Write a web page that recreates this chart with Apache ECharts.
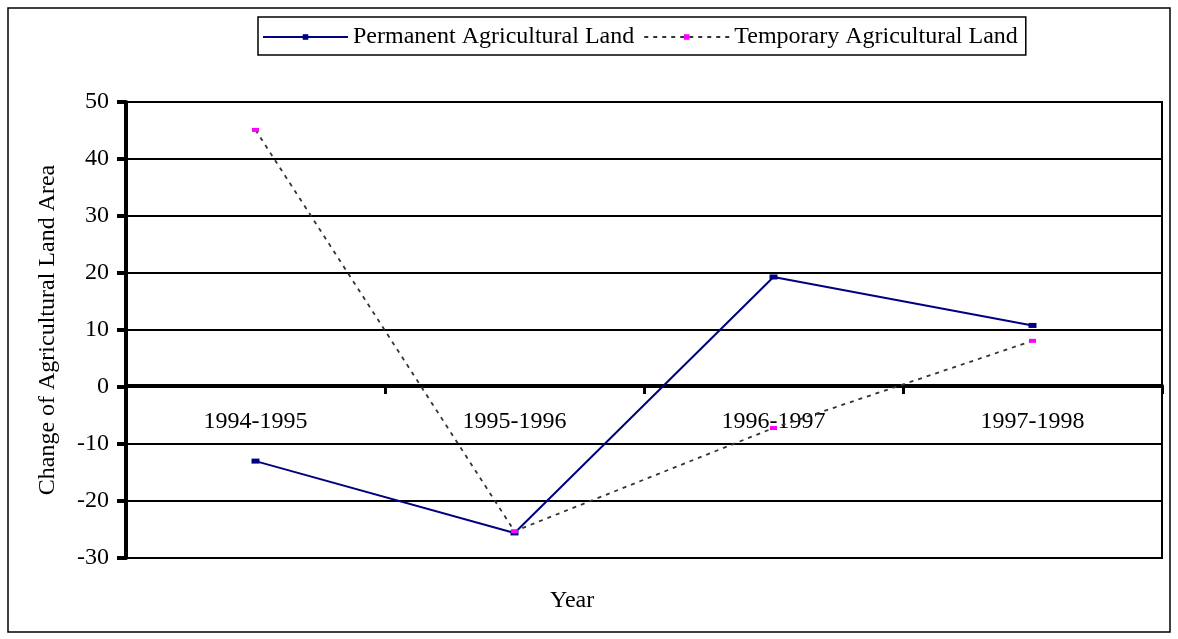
<!DOCTYPE html>
<html>
<head>
<meta charset="utf-8">
<script src="https://cdn.jsdelivr.net/npm/echarts@6/dist/echarts.min.js"></script>
<style>
  html, body { margin: 0; padding: 0; background: #fff; }
  #chart { width: 1178px; height: 639px; }
</style>
</head>
<body>
<div id="chart"></div>
<script>
// values
const years = ['1994-1995', '1995-1996', '1996-1997', '1997-1998'];
const permanentLand = [-13, -25.6, 19.3, 10.8];
const temporaryLand = [45.1, -25.3, -7.2, 8.1];
const yTicks = { min: -30, max: 50, interval: 10 };

const serif = '"Liberation Serif", "Times New Roman", serif';
const fs = 24;

const chart = echarts.init(document.getElementById('chart'));

chart.setOption({
  backgroundColor: '#fff',
  animation: false,
  textStyle: { fontFamily: serif, color: '#000' },
  graphic: [
    {
      type: 'rect',
      shape: { x: 8, y: 8, width: 1162, height: 624 },
      style: { fill: 'none', stroke: '#000', lineWidth: 1.5 }
    },
    {
      type: 'text',
      left: 550,
      top: 589,
      style: { text: 'Year', font: fs + 'px ' + serif, fill: '#000' }
    }
  ],
  legend: {
    left: 258,
    top: 17,
    padding: [8, 8, 6, 4],
    borderColor: '#000',
    borderWidth: 1.5,
    itemWidth: 85,
    itemHeight: 7,
    itemGap: 9,
    textStyle: { fontFamily: serif, fontSize: fs, color: '#000' },
    data: ['Permanent Agricultural Land', 'Temporary Agricultural Land']
  },
  grid: {
    left: 126,
    right: 16,
    top: 102,
    bottom: 81,
    show: true,
    borderColor: '#000',
    borderWidth: 2
  },
  xAxis: {
    type: 'category',
    data: years,
    offset: -172, // axis drawn at the zero line
    axisLine: { onZero: false, lineStyle: { color: '#000', width: 4 } },
    axisTick: { show: true, length: 8, lineStyle: { color: '#000', width: 3 } },
    axisLabel: { fontFamily: serif, fontSize: fs, color: '#000', margin: 24 }
  },
  yAxis: {
    type: 'value',
    min: yTicks.min,
    max: yTicks.max,
    interval: yTicks.interval,
    name: 'Change of Agricultural Land Area',
    nameLocation: 'middle',
    nameGap: 66,
    nameTextStyle: { fontFamily: serif, fontSize: fs, color: '#000' },
    axisLine: { show: true, lineStyle: { color: '#000', width: 4 } },
    axisTick: { show: true, length: 9, lineStyle: { color: '#000', width: 4 } },
    axisLabel: { fontFamily: serif, fontSize: fs, color: '#000', margin: 17 },
    splitLine: { show: true, lineStyle: { color: '#000', width: 2 } }
  },
  series: [
    {
      name: 'Permanent Agricultural Land',
      type: 'line',
      data: permanentLand,
      color: '#000080',
      lineStyle: { color: '#000080', width: 2 },
      symbol: 'rect',
      symbolSize: [8, 5],
      itemStyle: { color: '#000080' }
    },
    {
      name: 'Temporary Agricultural Land',
      type: 'line',
      data: temporaryLand,
      color: '#ff00ff',
      lineStyle: { color: '#333', width: 1.8, type: [4, 5] },
      symbol: 'rect',
      symbolSize: [7, 4],
      itemStyle: { color: '#ff00ff' },
      z: 3
    }
  ]
});
</script>
</body>
</html>
